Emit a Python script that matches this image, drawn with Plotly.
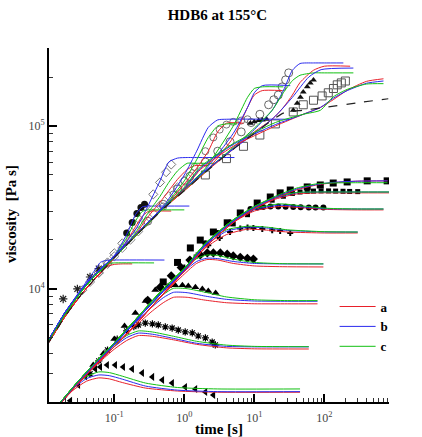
import plotly.graph_objects as go

# ---------------- colours / names ----------------
model_names = ["<b>a</b>", "<b>b</b>", "<b>c</b>"]
model_colors = ["#e8202a", "#2a2aee", "#12c012"]

# ---------------- shear (lower group) model curves ----------------
ts1 = [0.015, 0.025, 0.04, 0.06, 0.085, 0.13, 0.28, 0.8, 3, 45]
es1_a = [1850, 2350, 2700, 2830, 2790, 2650, 2450, 2350, 2310, 2310]
es1_b = [1870, 2400, 2800, 2950, 2920, 2780, 2520, 2380, 2330, 2330]
es1_c = [1880, 2430, 2880, 3080, 3050, 2900, 2630, 2470, 2420, 2420]

ts2 = [0.015, 0.03, 0.06, 0.1, 0.15, 0.22, 0.35, 0.7, 1.5, 4, 10, 60]
es2_a = [1850, 2600, 3500, 4250, 4800, 5150, 5100, 4850, 4550, 4330, 4270, 4260]
es2_b = [1870, 2650, 3600, 4400, 5000, 5330, 5250, 4950, 4620, 4420, 4390, 4390]
es2_c = [1880, 2680, 3650, 4500, 5150, 5500, 5420, 5100, 4750, 4500, 4420, 4400]

ts3 = [0.015, 0.03, 0.06, 0.1, 0.2, 0.35, 0.5, 0.7, 1.1, 2, 4, 10, 30, 80]
es3_a = [1850, 2600, 3550, 4400, 5900, 7300, 8200, 8850, 8850, 8500, 8200, 8080, 8070, 8070]
es3_b = [1870, 2650, 3650, 4550, 6200, 7750, 8800, 9500, 9450, 9000, 8600, 8400, 8370, 8370]
es3_c = [1880, 2680, 3700, 4650, 6350, 8100, 9200, 10050, 10000, 9500, 8900, 8550, 8450, 8450]

ts4 = [0.015, 0.03, 0.06, 0.1, 0.2, 0.5, 1, 1.5, 2.1, 3, 5, 10, 25, 97]
es4_a = [1850, 2600, 3550, 4400, 6000, 9200, 12300, 14300, 15100, 15000, 14300, 13800, 13650, 13600]
es4_b = [1870, 2650, 3650, 4550, 6300, 9600, 12800, 14700, 15400, 15300, 14700, 14300, 14200, 14200]
es4_c = [1880, 2680, 3700, 4650, 6450, 9900, 13300, 15300, 16100, 16000, 15200, 14500, 14250, 14200]

ts5 = [0.015, 0.03, 0.06, 0.1, 0.2, 0.5, 1, 2, 4, 8, 15, 30, 100, 300]
es5_a = [1850, 2600, 3550, 4400, 6000, 9300, 12800, 17800, 21500, 23200, 22900, 22300, 22000, 22000]
es5_b = [1870, 2650, 3650, 4550, 6300, 9700, 13000, 18500, 22500, 23900, 23600, 22800, 22350, 22300]
es5_c = [1880, 2680, 3700, 4650, 6450, 10000, 13300, 19000, 23000, 24200, 23900, 23000, 22400, 22300]

ts6 = [0.015, 0.03, 0.06, 0.1, 0.2, 0.5, 1, 2, 5, 10, 23, 50, 110, 300, 700]
es6_a = [1850, 2600, 3550, 4400, 6000, 9300, 12800, 18000, 25500, 30000, 32000, 31400, 30700, 30500, 30500]
es6_b = [1870, 2650, 3650, 4550, 6300, 9700, 13000, 18600, 26000, 30600, 32600, 31800, 31000, 30900, 30900]
es6_c = [1880, 2680, 3700, 4650, 6450, 10000, 13300, 19000, 26500, 31000, 33200, 32200, 31200, 30900, 30900]

ts7 = [0.015, 0.03, 0.06, 0.1, 0.2, 0.5, 1, 2, 5, 10, 20, 40, 80, 200, 300, 870]
es7_a = [1850, 2600, 3550, 4400, 6000, 9300, 12800, 18000, 25500, 31000, 35500, 38200, 38800, 38800, 38800, 38800]
es7_b = [1870, 2650, 3650, 4550, 6300, 9700, 13000, 18600, 26000, 31500, 36000, 38800, 39300, 39300, 39300, 39300]
es7_c = [1880, 2680, 3700, 4650, 6450, 10000, 13300, 19000, 26500, 32000, 36500, 39000, 39300, 39300, 39300, 39300]

ts8 = [0.015, 0.03, 0.06, 0.1, 0.2, 0.5, 1, 2, 5, 10, 20, 40, 80, 150, 300, 800]
es8_a = [1850, 2600, 3550, 4400, 6000, 9300, 12800, 18000, 25500, 31000, 36000, 40500, 43500, 45000, 45800, 46000]
es8_b = [1870, 2650, 3650, 4550, 6300, 9700, 13000, 18600, 26000, 31500, 36500, 41000, 43800, 45200, 45800, 46000]
es8_c = [1880, 2680, 3700, 4650, 6450, 10000, 13300, 19000, 26500, 32000, 37000, 41500, 44200, 44700, 44800, 44800]

# ---------------- extensional (upper group) model curves ----------------
tx1_a = [0.008, 0.012, 0.02, 0.035, 0.05, 0.08, 0.1, 0.13, 0.18]
ex1_a = [3700, 4800, 6800, 9400, 11200, 13700, 14100, 14200, 14200]
tx1_b = [0.008, 0.012, 0.02, 0.035, 0.05, 0.063, 0.075, 0.1, 0.52]
ex1_b = [3800, 5000, 7200, 10200, 12600, 14500, 14900, 15000, 15000]
tx1_c = [0.008, 0.012, 0.02, 0.035, 0.05, 0.07, 0.085, 0.1, 0.37]
ex1_c = [3750, 4900, 7000, 9800, 11900, 13800, 14300, 14400, 14400]

tx2 = [0.008, 0.012, 0.02, 0.035, 0.05, 0.1, 0.15, 0.2, 0.25, 0.3, 0.35]
ex2_a = [3700, 4800, 6800, 9400, 11200, 15500, 19500, 24000, 27800, 29700, 30000]
ex2_b = [3800, 5000, 7200, 10000, 12000, 16000, 21500, 28500, 31800, 32200, 32200]
ex2_c = [3750, 4900, 7000, 9800, 11700, 15800, 20500, 26000, 29800, 30500, 30500]
tx2_end = [0.65, 1.18, 1.0]

tx3 = [0.008, 0.012, 0.02, 0.035, 0.05, 0.1, 0.2, 0.3, 0.45, 0.6, 0.8, 1.1, 1.4]
ex3_a = [3700, 4800, 6800, 9400, 11200, 15500, 21500, 27500, 34000, 40000, 47000, 54000, 57000]
ex3_b = [3800, 5000, 7200, 10000, 12000, 15800, 23000, 32000, 46000, 60000, 63500, 64000, 64000]
ex3_c = [3750, 4900, 7000, 9800, 11700, 15500, 22000, 29000, 37000, 45000, 53000, 59000, 59000]
tx3_end = [2.2, 5.2, 2.8]

tx4 = [0.008, 0.012, 0.02, 0.035, 0.05, 0.1, 0.2, 0.5, 1, 1.5, 2.2, 3, 4]
ex4_a = [3700, 4800, 6800, 9400, 11200, 15500, 21000, 31000, 44000, 55000, 70000, 92000, 104000]
ex4_b = [3800, 5000, 7200, 10000, 12000, 15800, 21500, 32000, 50000, 70000, 98000, 109000, 110000]
ex4_c = [3750, 4900, 7000, 9800, 11700, 15500, 21000, 31500, 46000, 62000, 85000, 100000, 103000]
tx4_end = [7, 32.6, 5.7]

tx5 = [0.008, 0.012, 0.02, 0.035, 0.05, 0.1, 0.2, 0.5, 1, 2, 5, 8, 10, 13]
ex5_a = [3700, 4800, 6800, 9400, 11200, 15500, 21000, 31000, 40000, 52000, 85000, 130000, 155000, 165000]
ex5_b = [3800, 5000, 7200, 10000, 12000, 15800, 21500, 31500, 41000, 54000, 90000, 130000, 160000, 177000]
ex5_c = [3750, 4900, 7000, 9800, 11700, 15500, 21000, 31000, 41000, 55000, 100000, 150000, 170000, 174000]
tx5_end = [25, 32.6, 26]

tx6 = [0.008, 0.012, 0.02, 0.035, 0.05, 0.1, 0.2, 0.5, 1, 2, 5, 10, 18, 26, 35, 45, 70, 100]
ex6_a = [3700, 4800, 6800, 9400, 11200, 15500, 21000, 31000, 40000, 52000, 72000, 92000, 110000, 130000, 155000, 185000, 220000, 233000]
ex6_b = [3800, 5000, 7200, 10000, 12000, 15800, 21500, 31500, 41000, 53000, 73000, 95000, 125000, 165000, 220000, 242000, 244000, 244000]
ex6_c = [3750, 4900, 7000, 9800, 11700, 15500, 21000, 31000, 40500, 52500, 74000, 97000, 125000, 160000, 190000, 205000, 212000, 212000]
tx6_end = [234, 187, 260]
tx6_b2 = [0.008, 0.012, 0.02, 0.035, 0.05, 0.1, 0.2, 0.5, 1, 2, 5, 10, 20, 35, 60, 90, 260]
ex6_b2 = [3800, 5000, 7200, 10000, 12000, 15800, 21500, 31500, 41000, 53000, 72000, 90000, 115000, 150000, 200000, 222000, 227000]

tx7 = [0.008, 0.012, 0.02, 0.035, 0.05, 0.1, 0.2, 0.5, 1, 1.7, 5, 20, 50, 88, 134, 213, 400, 700]
ex7_a = [3700, 4800, 6800, 9400, 11200, 15500, 21000, 31000, 41000, 54000, 75000, 100000, 118000, 130000, 145000, 166000, 188000, 195000]
ex7_b = [3800, 5000, 7200, 10000, 12000, 15800, 21500, 31500, 41500, 55000, 77000, 102000, 118000, 130000, 148000, 165000, 183000, 189000]
ex7_c = [3750, 4900, 7000, 9800, 11700, 15500, 21000, 31000, 42000, 56000, 78000, 105000, 118000, 125000, 151000, 168000, 181000, 182000]

# dashed LVE envelope
t_lve = [0.008, 0.012, 0.02, 0.035, 0.05, 0.1, 0.2, 0.5, 1, 2, 5, 10, 26, 50, 100, 300, 820]
e_lve = [3700, 4800, 6800, 9400, 11200, 15500, 21000, 31000, 40000, 52000, 72000, 90000, 120000, 125000, 130000, 139000, 147000]

# ---------------- shear data (filled black symbols) ----------------
d1_t = [0.0235, 0.0306, 0.0385, 0.0425, 0.0535, 0.063, 0.079, 0.103, 0.134, 0.18, 0.25, 0.35, 0.485, 0.67, 1.03, 1.44, 2.0, 2.6]
d1_e = [2050, 2560, 2900, 3030, 3210, 3300, 3400, 3400, 3300, 3210, 3030, 2870, 2750, 2630, 2490, 2420, 2320, 2220]
d2_t = [0.045, 0.06, 0.08, 0.11, 0.15, 0.19, 0.22, 0.277, 0.35, 0.425, 0.535, 0.67, 0.82, 1.03, 1.3, 1.58, 2.0, 2.5, 2.77]
d2_e = [3000, 3600, 4200, 4900, 5500, 5850, 5990, 6150, 6080, 5990, 5820, 5730, 5570, 5420, 5350, 5120, 4980, 4700, 4510]
d3_t = [0.05, 0.07, 0.1, 0.14, 0.2, 0.28, 0.385, 0.485, 0.59, 0.74, 0.94, 1.14, 1.44, 1.81, 2.2, 2.8]
d3_e = [3400, 4000, 4900, 5900, 7100, 8400, 9820, 10100, 10400, 10500, 10500, 10400, 10200, 9950, 9670, 9400]
d4_t = [0.3, 0.45, 0.65, 0.9, 1.2, 1.69, 2.13, 2.6, 3.27, 4.1, 5.0, 6.3, 7.96, 9.7]
d4_e = [8500, 10200, 12000, 13500, 15000, 16100, 16600, 16600, 16600, 16300, 15900, 15600, 15400, 15200]
d5_t = [1, 1.5, 2.2, 3.2, 4.5, 6.3, 8, 9.7, 13, 18, 23.4, 32.6]
d5_e = [13500, 16000, 18500, 20500, 22300, 23400, 23800, 23600, 23300, 22900, 22600, 22000]
d6_t = [2, 3, 4.5, 6.3, 8.8, 11, 13.4, 17, 22, 28, 36, 46, 60, 75, 97]
d6_e = [19000, 22000, 25500, 29000, 30900, 31500, 31800, 32000, 32000, 31900, 31800, 31700, 31600, 31500, 31500]
d7_t = [5, 8, 12, 18, 26, 35, 45, 57, 70, 90, 115, 145, 185, 230, 300]
d7_e = [25000, 28500, 32000, 35000, 37000, 38500, 39300, 39600, 39800, 39900, 39900, 39800, 39700, 39600, 39500]
d8_t = [0.5, 0.8, 1.22, 1.69, 2.6, 4.1, 6.3, 11, 16.9, 23.4, 32.6, 57, 87.6, 134, 212, 410, 790]
d8_e = [11000, 14500, 17800, 19900, 22300, 25400, 29200, 33600, 36600, 38800, 40400, 42200, 43400, 44600, 45300, 46000, 46000]

# ---------------- extensional data (open grey symbols) ----------------
x_star_t = [0.0186, 0.0297, 0.045, 0.06]
x_star_e = [8650, 9960, 11800, 13300]
x_diam_t = [0.06, 0.08, 0.1, 0.13, 0.17, 0.22, 0.28, 0.36, 0.45, 0.55, 0.65]
x_diam_e = [12500, 14500, 16500, 19000, 22500, 27000, 32000, 38000, 45000, 52000, 58000]
x_diam2_t = [0.035, 0.045, 0.06, 0.08, 0.1, 0.13, 0.17, 0.22, 0.28, 0.36, 0.45, 0.6, 0.8, 1.0, 1.3]
x_diam2_e = [9800, 11000, 12600, 14200, 15800, 17800, 20000, 22500, 25500, 29000, 32500, 37000, 42000, 46000, 51000]
x_circ_t = [0.3, 0.5, 0.8, 1.2, 2, 3, 4.5, 6.5, 9, 12, 16, 19, 22, 25, 28, 31]
x_circ_e = [26000, 33000, 41000, 49000, 60000, 70000, 80000, 92000, 105000, 118000, 135000, 145000, 155000, 174000, 192000, 212000]
x_circ2_t = [0.5, 0.7, 1, 1.4, 2, 2.6, 3.2, 4, 5, 6.5, 8]
x_circ2_e = [32000, 38000, 46000, 56000, 70000, 85000, 95000, 102000, 106000, 108000, 110000]
x_sq_t = [2, 4, 7, 12, 20, 36, 50, 70, 93, 114, 135, 153, 175, 200]
x_sq_e = [50000, 63000, 75000, 88000, 103000, 122000, 135000, 144000, 153000, 160000, 170000, 179000, 184000, 189000]
x_fc_t = [0.15, 0.18, 0.21, 0.24, 0.27]
x_fc_e = [22000, 25500, 29000, 31500, 33000]
x_tri_t = [8.8, 10, 11.5, 13, 15, 36, 41, 45.6, 50, 57, 63, 70]
x_tri_e = [104000, 106000, 108000, 109000, 110000, 125000, 138000, 150000, 162000, 174000, 184000, 192000]

fig = go.Figure()


def add_line(t, e, k, show=False, dash=None):
    fig.add_trace(go.Scatter(
        x=t, y=e, mode="lines", name=model_names[k], legendgroup=model_names[k],
        showlegend=show, line=dict(color=model_colors[k], width=1, shape="spline",
                                   smoothing=0.6, dash=dash)))


def add_marks(t, e, symbol, size, color, line_color=None, lw=0):
    fig.add_trace(go.Scatter(
        x=t, y=e, mode="markers", showlegend=False,
        marker=dict(symbol=symbol, size=size, color=color,
                    line=dict(color=line_color or color, width=lw))))


# extensional open data first (under lines)
add_marks(x_diam2_t, x_diam2_e, "diamond-open", 7, "#888888", lw=1)
add_marks(x_diam_t, x_diam_e, "diamond-open", 7, "#777777", lw=1)
add_marks(x_circ2_t, x_circ2_e, "circle-open", 7, "#777777", lw=1)
add_marks(x_circ_t, x_circ_e, "circle-open", 8, "#666666", lw=1)
add_marks(x_sq_t, x_sq_e, "square-open", 8, "#555555", lw=1)
add_marks(x_star_t, x_star_e, "asterisk-open", 7, "#222222", lw=1.2)
add_marks(x_fc_t, x_fc_e, "circle", 7, "#111111")
add_marks(x_tri_t, x_tri_e, "triangle-up", 6, "#111111")

# shear data
add_marks(d1_t, d1_e, "triangle-left", 7, "#000000")
add_marks(d2_t, d2_e, "asterisk-open", 6, "#000000", lw=1.2)
add_marks(d3_t, d3_e, "triangle-up", 7, "#000000")
add_marks(d4_t, d4_e, "diamond", 7, "#000000")
add_marks(d5_t, d5_e, "cross", 5, "#000000")
add_marks(d6_t, d6_e, "circle", 6, "#000000")
add_marks(d7_t, d7_e, "square", 5, "#000000")
add_marks(d8_t, d8_e, "square", 7, "#000000")

# shear model lines
shear_sets = [
    (ts1, [es1_a, es1_b, es1_c]), (ts2, [es2_a, es2_b, es2_c]),
    (ts3, [es3_a, es3_b, es3_c]), (ts4, [es4_a, es4_b, es4_c]),
    (ts5, [es5_a, es5_b, es5_c]), (ts6, [es6_a, es6_b, es6_c]),
    (ts7, [es7_a, es7_b, es7_c]), (ts8, [es8_a, es8_b, es8_c]),
]
first = True
for t, es in shear_sets:
    for k, e in enumerate(es):
        add_line(t, e, k, show=first)
    first = False

# extensional model lines
add_line(tx1_a, ex1_a, 0)
add_line(tx1_b, ex1_b, 1)
add_line(tx1_c, ex1_c, 2)
for t, es, ends in [(tx2, [ex2_a, ex2_b, ex2_c], tx2_end),
                    (tx3, [ex3_a, ex3_b, ex3_c], tx3_end),
                    (tx4, [ex4_a, ex4_b, ex4_c], tx4_end),
                    (tx5, [ex5_a, ex5_b, ex5_c], tx5_end),
                    (tx6, [ex6_a, ex6_b, ex6_c], tx6_end)]:
    for k, e in enumerate(es):
        add_line(t + [ends[k]], e + [e[-1]], k)
add_line(tx6_b2, ex6_b2, 1)
add_line(tx7, ex7_a, 0)
add_line(tx7, ex7_b, 1)
add_line(tx7, ex7_c, 2)

fig.add_trace(go.Scatter(x=t_lve, y=e_lve, mode="lines", showlegend=False,
                         line=dict(color="#222222", width=1.2, dash="dash", shape="spline", smoothing=0.6)))

# ---------------- axes ----------------
x_major = [0.1, 1, 10, 100]
x_major_text = ["10<sup>-1</sup>", "10<sup>0</sup>", "10<sup>1</sup>", "10<sup>2</sup>"]
y_major = [1e4, 1e5]
y_major_text = ["10<sup>4</sup>", "10<sup>5</sup>"]
minor_mult = [2, 3, 4, 5, 6, 7, 8, 9]
x_decades = [0.01, 0.1, 1, 10, 100]
y_decades = [1e3, 1e4, 1e5]
x_minor = [m * d for d in x_decades for m in minor_mult]
y_minor = [m * d for d in y_decades for m in minor_mult]

serif = "Liberation Serif, Times New Roman, serif"

fig.update_layout(
    width=422, height=437,
    margin=dict(l=49, r=33, t=48, b=35, autoexpand=False),
    plot_bgcolor="white", paper_bgcolor="white",
    title=dict(text="<b>HDB6 at 155°C</b>", x=0.515, xanchor="center", y=0.966, yanchor="middle",
               font=dict(family=serif, size=15, color="black")),
    font=dict(family=serif, color="#333333"),
    legend=dict(x=0.84, y=0.312, xanchor="left", yanchor="top",
                bgcolor="rgba(0,0,0,0)", font=dict(family=serif, size=13, color="black"),
                tracegroupgap=0, itemwidth=36),
    showlegend=True,
    annotations=[dict(text="<b>viscosity  [Pa s]</b>", xref="paper", yref="paper",
                      x=-0.11, y=0.53, textangle=-90, showarrow=False,
                      xanchor="center", yanchor="middle",
                      font=dict(family=serif, size=15, color="black"))],
)
fig.update_xaxes(
    type="log", range=[-1.933, 2.924], automargin=False,
    tickmode="array", tickvals=x_major, ticktext=x_major_text,
    ticks="inside", ticklen=8, tickwidth=1.5, tickcolor="black", ticklabelstandoff=4,
    showline=True, linecolor="black", linewidth=2, showgrid=False, zeroline=False,
    tickfont=dict(family=serif, size=12, color="#444444"),
    minor=dict(tickmode="array", tickvals=x_minor, ticks="inside", ticklen=4,
               tickwidth=1, tickcolor="#333333", showgrid=False),
    title=dict(text="<b>time [s]</b>", font=dict(family=serif, size=15, color="black"), standoff=4),
)
fig.update_yaxes(
    type="log", range=[3.3036, 5.4793], automargin=False,
    tickmode="array", tickvals=y_major, ticktext=y_major_text,
    ticks="inside", ticklen=8, tickwidth=1.5, tickcolor="black",
    showline=True, linecolor="black", linewidth=2, showgrid=False, zeroline=False,
    tickfont=dict(family=serif, size=12, color="#444444"),
    minor=dict(tickmode="array", tickvals=y_minor, ticks="inside", ticklen=4,
               tickwidth=1, tickcolor="#333333", showgrid=False),
)

fig.write_html("out.html")
